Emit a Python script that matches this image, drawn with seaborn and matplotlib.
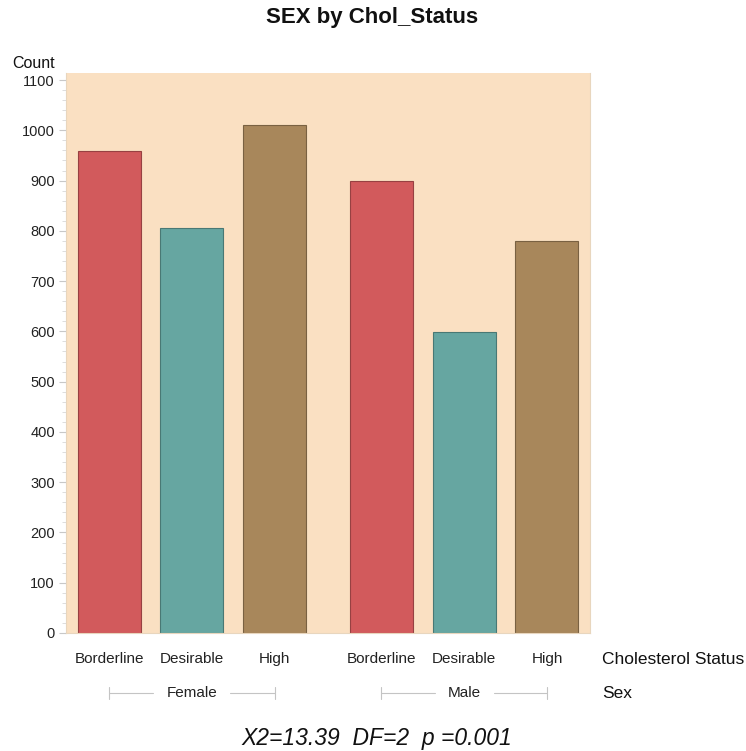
import matplotlib
matplotlib.use("Agg")
import matplotlib.pyplot as plt
import matplotlib.transforms as mtransforms
from matplotlib.ticker import MultipleLocator
import numpy as np
import pandas as pd
import seaborn as sns

# Cholesterol status counts by sex
sexes = ["Female", "Male"]
statuses = ["Borderline", "Desirable", "High"]
female_counts = [958, 805, 1010]
male_counts = [900, 598, 780]
stat_text = "X2=13.39  DF=2  p =0.001"

status_colors = {"Borderline": "#D25A5C", "Desirable": "#66A6A1", "High": "#A8875B"}

group_gap = 1.29  # spacing between the sex groups, in bar units
rows = []
for gi, (sex, counts) in enumerate(zip(sexes, [female_counts, male_counts])):
    for si, (status, c) in enumerate(zip(statuses, counts)):
        rows.append({"sex": sex, "status": status, "count": c,
                     "pos": gi * (len(statuses) - 1 + group_gap) + si})
df = pd.DataFrame(rows)

sns.set_theme(style="white")
plt.rcParams["font.family"] = ["Liberation Sans", "DejaVu Sans"]

fig = plt.figure(figsize=(7.46, 7.51), dpi=100)
ax = fig.add_axes([66 / 746, 118 / 751, 524 / 746, 560 / 751])
ax.set_facecolor("#FAE0C2")

sns.barplot(data=df, x="pos", y="count", hue="status", palette=status_colors,
            native_scale=True, dodge=False, width=0.76, legend=False,
            saturation=1, linewidth=0.8, ax=ax)
# darker outline in each bar's own hue
for patch in ax.patches:
    fc = patch.get_facecolor()
    patch.set_edgecolor(tuple(np.array(fc[:3]) * 0.72) + (1.0,))

ax.set_xlim(-0.52, df["pos"].max() + 0.52)
ax.set_ylim(0, 1114)
ax.yaxis.set_major_locator(MultipleLocator(100))
ax.yaxis.set_minor_locator(MultipleLocator(20))
ax.tick_params(axis="y", which="major", length=5, width=0.8, color="#C8C8C8",
               labelsize=10.5, labelcolor="#222222", pad=3, left=True)
ax.tick_params(axis="y", which="minor", length=3, width=0.6, color="#D8D8D8", left=True)
ax.set_xticks(df["pos"])
ax.set_xticklabels(df["status"])
ax.tick_params(axis="x", length=0, labelsize=11, labelcolor="#222222", pad=14)
ax.set_xlabel("")
ax.set_ylabel("")
ax.spines["top"].set_visible(False)
for side in ["left", "right", "bottom"]:
    ax.spines[side].set_color("#E8D6BE")
    ax.spines[side].set_linewidth(0.8)

# axis captions
fig.text(34 / 746, 1 - 63 / 751, "Count", ha="center", va="center", fontsize=11.5, color="#111111")
fig.text(602 / 746, 1 - 659 / 751, "Cholesterol Status", ha="left", va="center", fontsize=12.5, color="#111111")
fig.text(602 / 746, 1 - 693 / 751, "Sex", ha="left", va="center", fontsize=12.5, color="#111111")

# sex group brackets under the status labels
trans = mtransforms.blended_transform_factory(ax.transData, fig.transFigure)
y_br = 1 - 693 / 751
fig.canvas.draw()
renderer = fig.canvas.get_renderer()
for sex in sexes:
    sub = df[df["sex"] == sex]
    x0, x1 = sub["pos"].min(), sub["pos"].max()
    xm = sub["pos"].iloc[len(sub) // 2]
    t = ax.text(xm, y_br, sex, transform=trans, ha="center", va="center",
                fontsize=11, color="#222222")
    bb = t.get_window_extent(renderer)
    inv = ax.transData.inverted()
    tl = inv.transform((bb.x0 - 13, 0))[0]
    tr = inv.transform((bb.x1 + 13, 0))[0]
    kw = dict(transform=trans, color="#C4C4C4", lw=0.8, clip_on=False)
    ax.plot([x0, tl], [y_br, y_br], **kw)
    ax.plot([tr, x1], [y_br, y_br], **kw)
    h = 6 / 751
    ax.plot([x0, x0], [y_br - h, y_br + h], **kw)
    ax.plot([x1, x1], [y_br - h, y_br + h], **kw)

fig.text(372 / 746, 1 - 18 / 751, "SEX by Chol_Status", ha="center", va="center",
         fontsize=16, fontweight="bold", color="#111111")
fig.text(377 / 746, 1 - 738 / 751, stat_text, ha="center", va="center",
         fontsize=16.5, fontstyle="italic", color="#111111")

fig.savefig("out.png", dpi=100, facecolor="white")
